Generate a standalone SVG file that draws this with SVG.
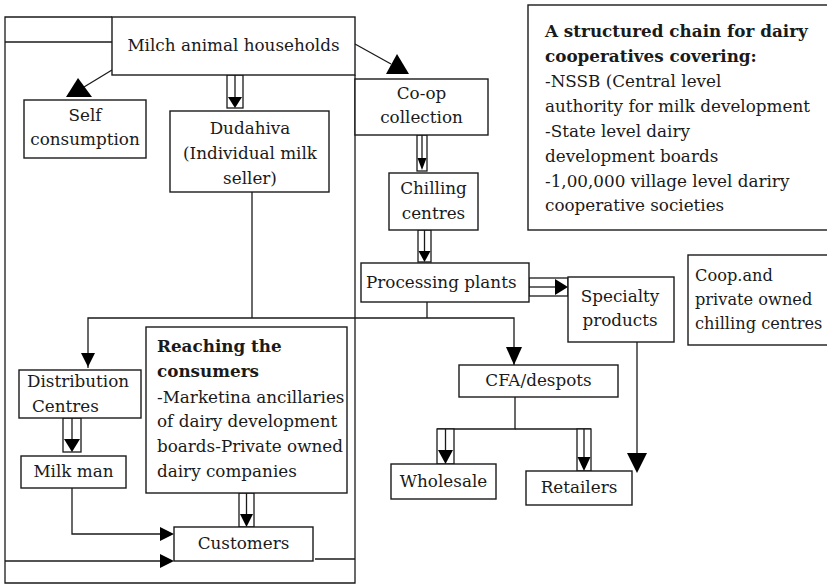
<svg xmlns="http://www.w3.org/2000/svg" width="827" height="585" viewBox="0 0 827 585">
  <style>
    .box { fill: #fff; stroke: #1a1a1a; stroke-width: 1.4; }
    .ln { fill: none; stroke: #1a1a1a; stroke-width: 1.3; }
    .hd { fill: #000; stroke: none; }
    .dbl { fill: #fff; stroke: #1a1a1a; stroke-width: 1.3; }
    text { font-family: "DejaVu Serif", "Liberation Serif", serif; font-size: 16.8px; fill: #1a1a1a; }
    .c { text-anchor: middle; }
    .b { font-weight: bold; }
    .s { font-size: 16.2px; }
  </style>
  <rect width="827" height="585" fill="#fff"/>

  <!-- connectors -->
  <g id="connectors">
    <!-- outer frame -->
    <path class="ln" d="M112,17 H5 V583 H355 V75"/>
    <path class="ln" d="M5,42 H112"/>
    <!-- milch to self consumption -->
    <path class="ln" d="M112,70 L84,87"/>
    <polygon class="hd" points="78,78 66,97 92,97"/>
    <!-- milch to co-op collection -->
    <path class="ln" d="M355,44 L391,64"/>
    <polygon class="hd" points="397,54 386,74 409,74"/>
    <!-- milch to dudahiva (double) -->
    <rect class="dbl" x="227" y="75" width="16" height="33"/>
    <path class="ln" d="M235,75 V98"/>
    <polygon class="hd" points="228,97 242,97 235,108"/>
    <!-- co-op to chilling (double) -->
    <rect class="dbl" x="417" y="135" width="10" height="36"/>
    <path class="ln" d="M422,135 V158"/>
    <polygon class="hd" points="417.5,158 426.5,158 422,170"/>
    <!-- chilling to processing (double) -->
    <rect class="dbl" x="418" y="230" width="13" height="32"/>
    <path class="ln" d="M424.5,230 V252"/>
    <polygon class="hd" points="418.5,251 430.5,251 424.5,262"/>
    <!-- processing to specialty (double) -->
    <rect class="dbl" x="529" y="278" width="39" height="18"/>
    <path class="ln" d="M529,287 H556"/>
    <polygon class="hd" points="555,279 555,295 568,287"/>
    <!-- dudahiva and processing into the distribution bus -->
    <path class="ln" d="M252,192 V318"/>
    <path class="ln" d="M427,302 V318"/>
    <path class="ln" d="M88,368 V318 H514 V365"/>
    <polygon class="hd" points="81,353 95,353 88,367"/>
    <polygon class="hd" points="506,347 522,347 514,365"/>
    <!-- cfa to wholesale / retailers -->
    <path class="ln" d="M515,397 V429 H437"/>
    <path class="ln" d="M515,429 H591"/>
    <rect class="dbl" x="437" y="429" width="17" height="35"/>
    <path class="ln" d="M445.5,429 V451"/>
    <polygon class="hd" points="438,450 453,450 445.5,464"/>
    <rect class="dbl" x="577" y="429" width="14" height="42"/>
    <path class="ln" d="M584,429 V458"/>
    <polygon class="hd" points="577.5,457 590.5,457 584,471"/>
    <!-- specialty to retailers -->
    <path class="ln" d="M637,342 V455"/>
    <polygon class="hd" points="627,453 647,453 637,473"/>
    <!-- distribution to milk man (double) -->
    <rect class="dbl" x="63" y="418" width="18" height="34"/>
    <path class="ln" d="M72,418 V440"/>
    <polygon class="hd" points="64,439 80,439 72,452"/>
    <!-- reaching to customers (double) -->
    <rect class="dbl" x="239" y="493" width="15" height="34"/>
    <path class="ln" d="M246.5,493 V515"/>
    <polygon class="hd" points="240,514 253,514 246.5,527"/>
    <!-- milk man to customers -->
    <path class="ln" d="M72,488 V534 H162"/>
    <polygon class="hd" points="160,527 160,541 174,534"/>
    <!-- frame into customers -->
    <path class="ln" d="M5,561 H162"/>
    <polygon class="hd" points="160,554 160,568 174,561"/>
    <path class="ln" d="M315,559 H355"/>
  </g>

  <g id="milch">
    <rect class="box" x="112" y="17" width="243" height="58"/>
    <text class="c" x="233.5" y="51">Milch animal households</text>
  </g>
  <g id="self">
    <rect class="box" x="24" y="100" width="122" height="58"/>
    <text class="c" x="85" y="121">Self</text>
    <text class="c" x="85" y="145">consumption</text>
  </g>
  <g id="dudahiva">
    <rect class="box" x="170" y="111" width="159" height="81"/>
    <text class="c" x="250" y="134">Dudahiva</text>
    <text class="c" x="250" y="159">(Individual milk</text>
    <text class="c" x="250" y="184">seller)</text>
  </g>
  <g id="coop-collection">
    <rect class="box" x="355" y="79" width="133" height="56"/>
    <text class="c" x="421.5" y="99">Co-op</text>
    <text class="c" x="421.5" y="123">collection</text>
  </g>
  <g id="chilling">
    <rect class="box" x="389" y="173" width="89" height="57"/>
    <text class="c" x="433.5" y="194">Chilling</text>
    <text class="c" x="433.5" y="219">centres</text>
  </g>
  <g id="structured-chain">
    <rect class="box" x="528" y="5" width="305" height="225"/>
    <text class="b" x="545" y="37">A structured chain for dairy</text>
    <text class="b" x="545" y="62">cooperatives covering:</text>
    <text x="545" y="87">-NSSB (Central level</text>
    <text x="545" y="112">authority for milk development</text>
    <text x="545" y="137">-State level dairy</text>
    <text x="545" y="162">development boards</text>
    <text x="545" y="187">-1,00,000 village level dariry</text>
    <text x="545" y="211">cooperative societies</text>
  </g>
  <g id="processing">
    <rect class="box" x="361" y="263" width="168" height="39"/>
    <text x="366" y="288">Processing plants</text>
  </g>
  <g id="specialty">
    <rect class="box" x="568" y="277" width="106" height="65"/>
    <text class="c" x="620" y="302">Specialty</text>
    <text class="c" x="620" y="326">products</text>
  </g>
  <g id="coop-private">
    <rect class="box" x="688" y="255" width="145" height="90"/>
    <text class="s" x="695" y="281">Coop.and</text>
    <text class="s" x="695" y="305">private owned</text>
    <text class="s" x="695" y="329">chilling centres</text>
  </g>
  <g id="cfa">
    <rect class="box" x="459" y="365" width="159" height="32"/>
    <text class="c" x="538.5" y="386">CFA/despots</text>
  </g>
  <g id="wholesale">
    <rect class="box" x="391" y="464" width="105" height="35"/>
    <text class="c" x="443.5" y="487">Wholesale</text>
  </g>
  <g id="retailers">
    <rect class="box" x="526" y="471" width="106" height="34"/>
    <text class="c" x="579" y="493">Retailers</text>
  </g>
  <g id="distribution">
    <rect class="box" x="19" y="370" width="122" height="48"/>
    <text x="27" y="387">Distribution</text>
    <text x="32" y="412">Centres</text>
  </g>
  <g id="milkman">
    <rect class="box" x="21" y="456" width="105" height="32"/>
    <text class="c" x="73.5" y="477">Milk man</text>
  </g>
  <g id="reaching">
    <rect class="box" x="146" y="327" width="201" height="166"/>
    <text class="b" x="157" y="352">Reaching the</text>
    <text class="b" x="157" y="377">consumers</text>
    <text x="157" y="403">-Marketina ancillaries</text>
    <text x="157" y="427">of dairy development</text>
    <text x="157" y="452">boards-Private owned</text>
    <text x="157" y="477">dairy companies</text>
  </g>
  <g id="customers">
    <rect class="box" x="174" y="527" width="139" height="34"/>
    <text class="c" x="243.5" y="549">Customers</text>
  </g>
</svg>
